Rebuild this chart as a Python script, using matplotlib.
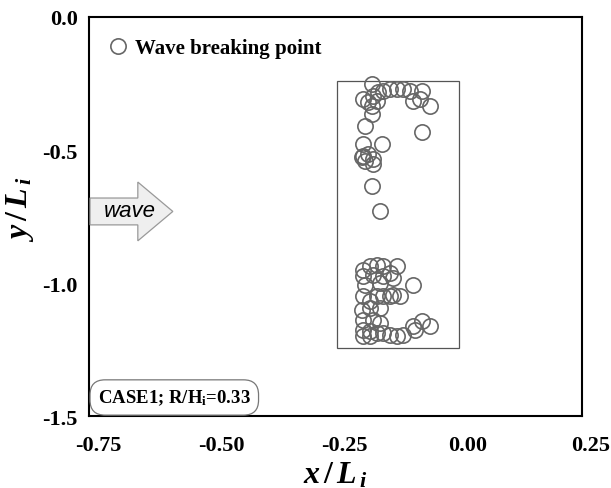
import matplotlib
matplotlib.use("Agg")
import matplotlib.pyplot as plt
import matplotlib.transforms as mtransforms
from matplotlib.patches import Rectangle, FancyArrow

plt.rcParams['font.family'] = 'Liberation Serif'
plt.rcParams['font.weight'] = 'bold'
plt.rcParams['axes.unicode_minus'] = False
plt.rcParams['mathtext.fontset'] = 'custom'
plt.rcParams['mathtext.rm'] = 'Liberation Serif:bold'
plt.rcParams['mathtext.bf'] = 'Liberation Serif:bold'
plt.rcParams['mathtext.it'] = 'Liberation Serif:italic:bold'

# wave breaking points (x/Li, y/Li)
x_break = [-0.176, -0.194, -0.184, -0.174, -0.166, -0.164, -0.154, -0.139, -0.125, -0.113,
           -0.099, -0.075, -0.093, -0.079, -0.058, -0.176, -0.176, -0.190, -0.075, -0.194,
           -0.156, -0.194, -0.184, -0.174, -0.190, -0.174, -0.196, -0.176, -0.160,
           -0.194, -0.180, -0.166, -0.154, -0.125, -0.194, -0.174, -0.154, -0.139, -0.133,
           -0.093, -0.190, -0.160, -0.194, -0.180, -0.166, -0.154, -0.139, -0.133, -0.119,
           -0.196, -0.180, -0.160, -0.194, -0.174, -0.160, -0.194, -0.180, -0.166, -0.154,
           -0.139, -0.125, -0.113, -0.194, -0.180, -0.093, -0.075, -0.058, -0.089]
y_break = [-0.251, -0.307, -0.319, -0.296, -0.315, -0.281, -0.277, -0.270, -0.270, -0.270,
           -0.277, -0.277, -0.315, -0.307, -0.334, -0.334, -0.364, -0.409, -0.431, -0.476,
           -0.476, -0.521, -0.514, -0.532, -0.540, -0.551, -0.525, -0.634, -0.731,
           -0.952, -0.937, -0.934, -0.937, -0.937, -0.975, -0.971, -0.975, -0.964, -0.982,
           -1.009, -1.009, -1.001, -1.050, -1.069, -1.050, -1.050, -1.050, -1.046, -1.050,
           -1.102, -1.095, -1.095, -1.140, -1.140, -1.151, -1.177, -1.181, -1.189, -1.189,
           -1.196, -1.200, -1.196, -1.200, -1.200, -1.162, -1.144, -1.162, -1.177]

# structure outline
rect_x = [-0.247, 0.0]
rect_y = [-1.245, -0.240]

xticks = [-0.75, -0.50, -0.25, 0.00, 0.25]
xticklabels = ['-0.75', '-0.50', '-0.25', '0.00', '0.25']
yticks = [0.0, -0.5, -1.0, -1.5]
yticklabels = ['0.0', '-0.5', '-1.0', '-1.5']

fig = plt.figure(figsize=(6.11, 4.89), dpi=100)
ax = fig.add_axes([0.1457, 0.1472, 0.8068, 0.816])

ax.plot(x_break, y_break, 'o', ms=11, mfc='none', mec='#666666', mew=1.2,
        label='Wave breaking point')

ax.add_patch(Rectangle((rect_x[0], rect_y[0]), rect_x[1] - rect_x[0], rect_y[1] - rect_y[0],
                       fill=False, ec='#555555', lw=0.9))

# incoming wave arrow
ax.add_patch(FancyArrow(-0.748, -0.731, 0.168, 0.0, width=0.101, head_width=0.221,
                        head_length=0.071, length_includes_head=True,
                        fc='#efefef', ec='#999999', lw=0.9, zorder=3))
ax.text(-0.667, -0.726, 'wave', family='Liberation Sans', style='italic', weight='normal',
        fontsize=16, ha='center', va='center', zorder=4)

ax.text(0.018, 0.022, r'CASE1; R/H$_\mathregular{i}$=0.33', transform=ax.transAxes,
        fontsize=13.5, ha='left', va='bottom',
        bbox=dict(boxstyle='round,pad=0.42,rounding_size=0.8', fc='white', ec='#777777', lw=0.9))

ax.set_xlim(-0.75, 0.25)
ax.set_ylim(-1.5, 0.0)
ax.set_xticks(xticks)
ax.set_xticklabels(xticklabels)
ax.set_yticks(yticks)
ax.set_yticklabels(yticklabels)
ax.tick_params(axis='x', length=0, pad=14, labelsize=16)
ax.tick_params(axis='y', length=0, pad=8, labelsize=16)
for s in ax.spines.values():
    s.set_linewidth(1.5)

# x tick labels sit a little to the right of their ticks in the original
shift = mtransforms.ScaledTranslation(9 / 100, 0, fig.dpi_scale_trans)
for lab in ax.get_xticklabels():
    lab.set_transform(lab.get_transform() + shift)

ax.set_xlabel(r'$x\,/\,L_{\,i}$', fontsize=23, labelpad=3)
ax.set_ylabel(r'$y\,/\,L_{\,i}$', fontsize=23)
ax.yaxis.set_label_coords(-0.108, 0.521)

ax.legend(loc='upper left', frameon=False, fontsize=15, handlelength=0.8,
          handletextpad=0.4, borderaxespad=0.6, numpoints=1)

fig.savefig('out.png', dpi=100)
